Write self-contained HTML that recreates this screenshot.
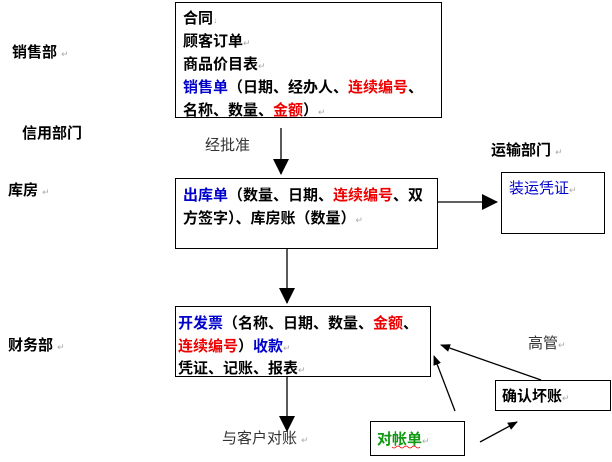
<!DOCTYPE html>
<html><head><meta charset="utf-8"><style>
body{margin:0;background:#fff}
svg text{font-family:"Liberation Sans","Noto Sans CJK SC",sans-serif;font-size:15px}
.b{font-weight:bold}
.m{fill:#aaa;font-size:9px;font-weight:normal}
</style></head><body>
<svg width="612" height="457" xmlns="http://www.w3.org/2000/svg">
<defs><marker id="a" markerWidth="10" markerHeight="10" refX="9" refY="5" orient="auto" markerUnits="userSpaceOnUse"><path d="M0,0L10,5L0,10z" fill="#000"/></marker>
<marker id="s" markerWidth="10" markerHeight="8" refX="9" refY="4" orient="auto" markerUnits="userSpaceOnUse"><path d="M0,0L10,4L0,8z" fill="#000"/></marker>
<marker id="big" markerWidth="16" markerHeight="16" refX="15" refY="8" orient="auto" markerUnits="userSpaceOnUse"><path d="M0,0L16,8L0,16z" fill="#000"/></marker></defs>
<g fill="#fff" stroke="#000" stroke-width="1">
<rect x="175.5" y="2.5" width="266" height="115"/>
<rect x="175.5" y="178.5" width="262" height="70"/>
<rect x="175.5" y="306.5" width="255" height="70"/>
<rect x="501.5" y="172.5" width="103" height="61"/>
<rect x="495.5" y="380.5" width="115" height="30"/>
<rect x="370.5" y="421.5" width="94" height="34"/>
</g>
<g class="b">
<text x="183" y="23" class="b">合同<tspan class="m">↓</tspan></text>
<text x="183" y="46" class="b">顾客订单<tspan class="m">↵</tspan></text>
<text x="183" y="69" class="b">商品价目表<tspan class="m">↵</tspan></text>
<text x="183" y="92" class="b"><tspan fill="#0000cc">销售单</tspan>（日期、经办人、<tspan fill="#e00">连续编号</tspan>、</text>
<text x="183" y="115" class="b">名称、数量、<tspan fill="#e00">金额</tspan>）<tspan class="m">↵</tspan></text>
<text x="183" y="200" class="b"><tspan fill="#0000cc">出库单</tspan>（数量、日期、<tspan fill="#e00">连续编号</tspan>、双</text>
<text x="183" y="223" class="b">方签字）、库房账（数量）<tspan class="m">↵</tspan></text>
<text x="178" y="328" class="b"><tspan fill="#0000cc">开发票</tspan>（名称、日期、数量、<tspan fill="#e00">金额</tspan>、</text>
<text x="178" y="351" class="b"><tspan fill="#e00">连续编号</tspan>）<tspan fill="#0000cc">收款</tspan><tspan class="m">↵</tspan></text>
<text x="178" y="373" class="b">凭证、记账、报表<tspan class="m">↵</tspan></text>
<text x="502" y="401" class="b">确认坏账<tspan class="m">↵</tspan></text>
<text x="377" y="444" class="b" fill="#119911">对帐单<tspan class="m">↵</tspan></text>
<text x="12" y="57" class="b">销售部 <tspan class="m">↵</tspan></text>
<text x="22" y="138" class="b">信用部门</text>
<text x="8" y="195" class="b">库房 <tspan class="m">↵</tspan></text>
<text x="8" y="350" class="b">财务部 <tspan class="m">↵</tspan></text>
<text x="491" y="155" class="b">运输部门 <tspan class="m">↵</tspan></text>
</g>
<path d="M392 447 q2 2 4 0 q2 -2 4 0 q2 2 4 0 q2 -2 4 0 q2 2 4 0 q2 -2 4 0 q2 2 4 0" stroke="#e00" fill="none" stroke-width="0.8"/>
<text x="509" y="193" fill="#0000cc">装运凭证<tspan class="m">↵</tspan></text>
<text x="205" y="150" fill="#333">经批准</text>
<text x="528" y="348" fill="#333">高管<tspan class="m">↵</tspan></text>
<text x="222" y="443" fill="#333">与客户对账 <tspan class="m">↵</tspan></text>
<g stroke="#000" stroke-width="1.3" fill="none">
<line x1="281" y1="128" x2="281" y2="174" marker-end="url(#big)"/>
<line x1="437" y1="202" x2="497" y2="202" marker-end="url(#big)"/>
<line x1="287" y1="249" x2="287" y2="303" marker-end="url(#big)"/>
<line x1="287" y1="377" x2="287" y2="431" marker-end="url(#big)"/>
<line x1="455" y1="411" x2="434" y2="356" marker-end="url(#s)"/>
<line x1="541" y1="380" x2="441" y2="345" marker-end="url(#s)"/>
<line x1="480" y1="442" x2="517" y2="422" marker-end="url(#s)"/>
</g>
</svg>
</body></html>
